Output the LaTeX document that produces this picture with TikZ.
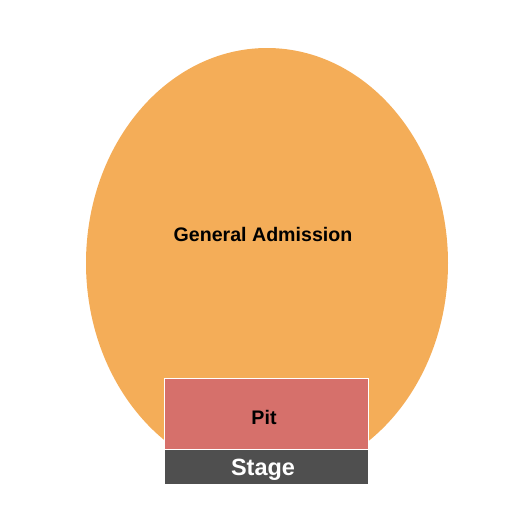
\documentclass[tikz,border=0pt]{standalone}
\usepackage{fontspec}
\setmainfont{Liberation Sans}
\usetikzlibrary{shapes.geometric,positioning}
\definecolor{gacolor}{RGB}{244,173,88}
\definecolor{pitcolor}{RGB}{214,112,107}
\definecolor{stagecolor}{RGB}{79,79,79}
\tikzset{
	area/.style = {draw=none, fill=gacolor, ellipse, inner sep=0pt, minimum width=362pt, minimum height=430pt},
	%,
	pitbox/.style = {draw=white, line width=1pt, fill=pitcolor, rectangle, inner sep=0pt, minimum width=204pt, minimum height=71pt},
	stagebox/.style = {draw=none, fill=stagecolor, rectangle, inner sep=0pt, minimum width=203pt, minimum height=34pt},
	seatname/.style = {inner sep=0pt, anchor=base, font=\bfseries\fontsize{19.6}{22}\selectfont},
	stagename/.style = {inner sep=0pt, anchor=base, text=white, font=\bfseries\fontsize{23.5}{26}\selectfont}
}

\begin{document}
\begin{tikzpicture}[x=1pt, y=-1pt]
    \useasboundingbox (0,0) rectangle (525,525);
    % We start by placing the seating areas
    \node [area] (ga) at (267,263) {};
    \node [pitbox] (pit) at (266.3,413.7) {};
    \node [stagebox, below=0.2pt of pit] (stage) {};
    % Names of the areas
    \node [seatname] (ganame) at (263,241.7) {General Admission};
    \node [seatname] (pitname) at (264,424) {Pit};
    \node [stagename] (stagetext) at (263,475) {Stage};
\end{tikzpicture}
\end{document}
